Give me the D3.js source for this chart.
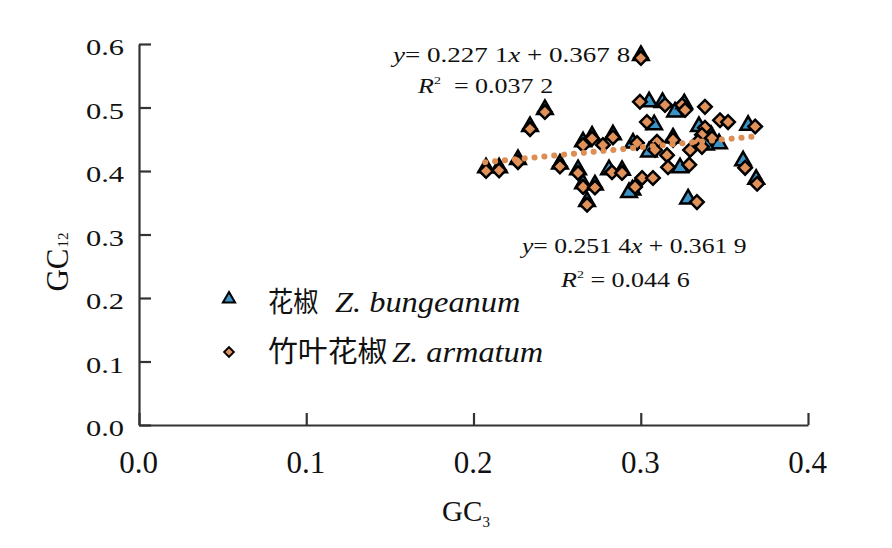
<!DOCTYPE html>
<html><head><meta charset="utf-8">
<script src="https://cdn.jsdelivr.net/npm/d3@7/dist/d3.min.js"></script>
<style>body{margin:0;background:#fff}svg{display:block}</style>
</head><body>
<svg id="c" width="892" height="548"></svg>
<script>
// ---- data ----
const xTicks = [0.0, 0.1, 0.2, 0.3, 0.4];
const yTicks = [0.0, 0.1, 0.2, 0.3, 0.4, 0.5, 0.6];
const seriesNames = ["花椒", "竹叶花椒"];
const seriesLatin = ["Z. bungeanum", "Z. armatum"];
// Z. bungeanum (triangles): GC3, GC12
const bungeanumGC3 = [0.2075,0.2153,0.2266,0.2338,0.2427,0.2517,0.2625,0.2655,0.2726,0.2679,0.2655,0.2709,0.2834,0.2888,0.2950,0.3001,0.3050,0.3205,0.3080,0.3642,0.3348,0.3420,0.2954,0.3193,0.3049,0.3468,0.3235,0.3612,0.2930,0.3283,0.3690,0.3260,0.2810,0.3130,0.3390];
const bungeanumGC12 = [0.405,0.405,0.418,0.470,0.497,0.411,0.402,0.380,0.378,0.352,0.446,0.455,0.457,0.401,0.370,0.582,0.509,0.493,0.473,0.472,0.470,0.456,0.444,0.452,0.430,0.443,0.405,0.416,0.366,0.356,0.387,0.506,0.402,0.508,0.441];
// Z. armatum (diamonds): GC3, GC12
const armatumGC3 = [0.2075,0.2153,0.2266,0.2338,0.2427,0.2517,0.2625,0.2655,0.2726,0.2679,0.2655,0.2709,0.2774,0.2834,0.2828,0.2888,0.3001,0.2995,0.3145,0.3247,0.3265,0.3384,0.3037,0.3474,0.3522,0.3684,0.3384,0.3366,0.3426,0.3342,0.2978,0.3097,0.3193,0.3085,0.3157,0.3295,0.3366,0.3163,0.3008,0.3073,0.2966,0.3624,0.3696,0.3336,0.3290];
const armatumGC12 = [0.400,0.401,0.414,0.466,0.493,0.407,0.397,0.375,0.374,0.347,0.441,0.451,0.441,0.453,0.398,0.397,0.578,0.509,0.504,0.504,0.496,0.501,0.477,0.480,0.477,0.470,0.468,0.457,0.452,0.446,0.444,0.446,0.449,0.433,0.425,0.433,0.438,0.406,0.389,0.389,0.375,0.405,0.380,0.351,0.410];
// regression (Z. armatum): y = 0.2514x + 0.3619
const fitSlope = 0.2514, fitIntercept = 0.3619, fitRange = [0.207, 0.370];
const eqLines = [
  {a:"0.227 1", b:"0.367 8", r:"0.037 2", rGap:"  "},
  {a:"0.251 4", b:"0.361 9", r:"0.044 6", rGap:" "}
];

// ---- drawing ----
const svg = d3.select("#c");
const x = d3.scaleLinear().domain([0, 0.4]).range([139, 808]);
const y = d3.scaleLinear().domain([0, 0.6]).range([425, 44]);
const serif = "Liberation Serif, Times New Roman, serif";
const axisCol = "#333";

function stretch(sel, s) {
  sel.each(function () {
    const el = d3.select(this);
    const x0 = +(el.attr("x") || 0);
    el.attr("transform", `translate(${x0},0) scale(${s},1) translate(${-x0},0)`);
  });
}

const gx = svg.append("g").attr("transform", "translate(0,425)")
  .call(d3.axisBottom(x).tickValues(xTicks).tickFormat(d3.format(".1f")).tickSizeInner(-12).tickSizeOuter(0));
const gy = svg.append("g").attr("transform", "translate(139,0)")
  .call(d3.axisLeft(y).tickValues(yTicks).tickFormat(d3.format(".1f")).tickSizeInner(-12).tickSizeOuter(0));
[gx, gy].forEach(g => {
  g.attr("font-family", null).attr("font-size", null);
  g.select(".domain").attr("stroke", axisCol).attr("stroke-width", 2.2);
  g.selectAll(".tick line").attr("stroke", axisCol).attr("stroke-width", 2.2);
  g.selectAll(".tick text").attr("font-family", serif).attr("fill", "#111");
});
gx.selectAll(".tick text").attr("font-size", 31).attr("y", 48).attr("dy", 0).attr("x", -1);
gy.selectAll(".tick text").attr("font-size", 24).attr("x", -15).attr("dy", "0.45em");
stretch(gy.selectAll(".tick text"), 1.27);

// axis titles
const xt = svg.append("text").attr("x", 466).attr("y", 521).attr("text-anchor", "middle")
  .attr("font-family", serif).attr("font-size", 29).attr("fill", "#111");
xt.append("tspan").text("GC");
xt.append("tspan").text("3").attr("font-size", 15).attr("dy", 6);
const yt = svg.append("text").attr("transform", "translate(68,262) rotate(-90)").attr("text-anchor", "middle")
  .attr("font-family", serif).attr("font-size", 31).attr("fill", "#111");
yt.append("tspan").text("GC");
yt.append("tspan").text("12").attr("font-size", 15).attr("dy", 0).attr("dx", 1);

// markers
const triColor = "#3b93c6", diaColor = "#e1925b";
const triPath = d3.symbol().type(d3.symbolTriangle).size(105)();
const diaPath = d3.symbol().type(d3.symbolSquare).size(92)();
const bData = bungeanumGC3.map((v, i) => [v, bungeanumGC12[i]]);
const aData = armatumGC3.map((v, i) => [v, armatumGC12[i]]);
svg.append("g").selectAll("path").data(bData).join("path")
  .attr("d", triPath).attr("transform", d => `translate(${x(d[0])},${y(d[1])})`)
  .attr("fill", triColor).attr("stroke", "#000").attr("stroke-width", 2.5);
svg.append("g").selectAll("path").data(aData).join("path")
  .attr("d", diaPath).attr("transform", d => `translate(${x(d[0])},${y(d[1])}) rotate(45)`)
  .attr("fill", diaColor).attr("stroke", "#000").attr("stroke-width", 2.5);

// regression line (dotted)
svg.append("path").datum(fitRange)
  .attr("d", d3.line().x(d => x(d)).y(d => y(fitSlope * d + fitIntercept)))
  .attr("fill", "none").attr("stroke", "#dd8e55").attr("stroke-width", 6)
  .attr("stroke-linecap", "round").attr("stroke-dasharray", "0.1 9.8");

// equations
function eq(e, xStart, yBase, rx, rBase, s) {
  const t = svg.append("text").attr("x", xStart).attr("y", yBase)
    .attr("font-family", serif).attr("font-size", 20.5).attr("fill", "#111");
  t.append("tspan").text("y").attr("font-style", "italic");
  t.append("tspan").text("= " + e.a);
  t.append("tspan").text("x").attr("font-style", "italic");
  t.append("tspan").text(" + " + e.b);
  const r = svg.append("text").attr("x", rx).attr("y", rBase)
    .attr("font-family", serif).attr("font-size", 20.5).attr("fill", "#111").attr("xml:space", "preserve")
    .style("white-space", "pre");
  r.append("tspan").text("R").attr("font-style", "italic");
  r.append("tspan").text("2").attr("font-size", 11).attr("dy", -9);
  r.append("tspan").text(e.rGap + "= " + e.r).attr("dy", 9);
  stretch(t, s); stretch(r, 1.27);
}
eq(eqLines[0], 393, 62, 418, 93, 1.32);
eq(eqLines[1], 522, 253, 561, 287, 1.25);

// legend
const leg = [
  {p: triPath, c: triColor, rot: 0, ty: 312, my: 299, s: 0.78, cjk: 28, cjkS: 0.9},
  {p: diaPath, c: diaColor, rot: 45, ty: 362, my: 352, s: 0.72, cjk: 29, cjkS: 1.03}
];
const latinX = [335, 392];
leg.forEach((l, i) => {
  svg.append("path").attr("d", l.p)
    .attr("transform", `translate(229,${l.my}) rotate(${l.rot}) scale(${l.s})`)
    .attr("fill", l.c).attr("stroke", "#000").attr("stroke-width", 2.6);
  const c = svg.append("text").attr("x", 268).attr("y", l.ty)
    .attr("font-family", "Noto Sans CJK SC, sans-serif").attr("font-size", l.cjk).attr("fill", "#111")
    .text(seriesNames[i]);
  stretch(c, l.cjkS);
  const t = svg.append("text").attr("x", latinX[i]).attr("y", l.ty)
    .attr("font-family", serif).attr("font-style", "italic").attr("font-size", 30).attr("fill", "#111")
    .text(seriesLatin[i]);
  stretch(t, 1.08);
});
</script>
</body></html>
